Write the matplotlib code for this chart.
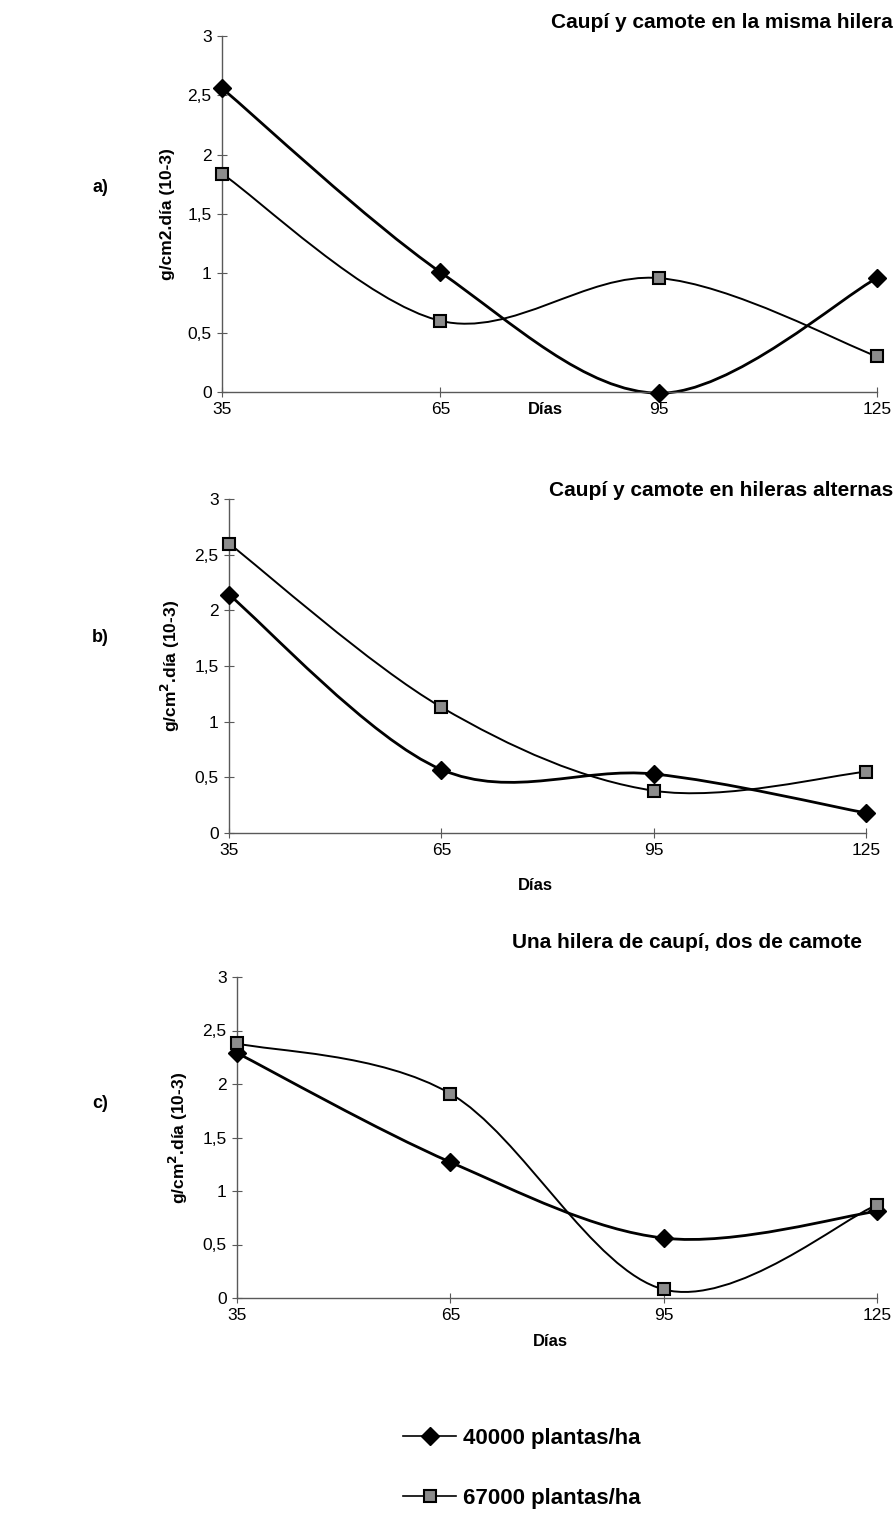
import matplotlib.pyplot as plt
from matplotlib.path import Path
from matplotlib.patches import PathPatch
from matplotlib.lines import Line2D

plt.rcParams['font.family'] = ['Liberation Sans', 'DejaVu Sans']

# days after planting
dias = [35, 65, 95, 125]

# a) caupi y camote en la misma hilera
a_40000 = [2.56, 1.01, -0.01, 0.96]
a_67000 = [1.84, 0.60, 0.96, 0.30]
# b) hileras alternas
b_40000 = [2.14, 0.57, 0.53, 0.18]
b_67000 = [2.60, 1.13, 0.38, 0.55]
# c) una hilera de caupi, dos de camote
c_40000 = [2.29, 1.27, 0.56, 0.81]
c_67000 = [2.38, 1.91, 0.08, 0.87]

yticks = [0, 0.5, 1, 1.5, 2, 2.5, 3]
ytick_labels = ['0', '0,5', '1', '1,5', '2', '2,5', '3']
series_labels = ['40000 plantas/ha', '67000 plantas/ha']

W, H = 896, 1520


def smooth_path(x, y):
    # excel style smoothed line, bezier segments between the points
    verts = [(x[0], y[0])]
    codes = [Path.MOVETO]
    n = len(x)
    for i in range(n - 1):
        xp, yp = (x[i - 1], y[i - 1]) if i > 0 else (x[i], y[i])
        xn, yn = (x[i + 2], y[i + 2]) if i + 2 < n else (x[i + 1], y[i + 1])
        c1 = (x[i] + (x[i + 1] - xp) / 6, y[i] + (y[i + 1] - yp) / 6)
        c2 = (x[i + 1] - (xn - x[i]) / 6, y[i + 1] - (yn - y[i]) / 6)
        verts += [c1, c2, (x[i + 1], y[i + 1])]
        codes += [Path.CURVE4] * 3
    return Path(verts, codes)


def panel(rect, s40, s67, ylabel):
    l, t, r, b = rect
    ax = fig.add_axes([l / W, 1 - b / H, (r - l) / W, (b - t) / H])
    ax.add_patch(PathPatch(smooth_path(dias, s40), fc='none', ec='black', lw=2.0, clip_on=False))
    ax.add_patch(PathPatch(smooth_path(dias, s67), fc='none', ec='black', lw=1.4, clip_on=False))
    ax.plot(dias, s40, ls='none', marker='D', ms=9, mfc='black', mec='black', clip_on=False, zorder=3)
    ax.plot(dias, s67, ls='none', marker='s', ms=8, mfc='0.55', mec='black', mew=1.5, clip_on=False, zorder=3)
    ax.set_xlim(35, 125)
    ax.set_ylim(0, 3)
    ax.set_xticks(dias)
    ax.set_yticks(yticks)
    ax.set_yticklabels(ytick_labels)
    for sp in ['top', 'right']:
        ax.spines[sp].set_visible(False)
    for sp in ['left', 'bottom']:
        ax.spines[sp].set_color('0.35')
        ax.spines[sp].set_linewidth(1.0)
    ax.tick_params(direction='inout', length=7, width=0.8, color='0.35', labelsize=12.5, pad=4)
    ax.set_ylabel(ylabel, fontsize=12.5, fontweight='bold', labelpad=9)
    return ax


fig = plt.figure(figsize=(W / 100, H / 100), dpi=100)

panel((222, 36, 877, 392), a_40000, a_67000, 'g/cm2.día (10-3)')
panel((229, 499, 866, 833), b_40000, b_67000, 'g/cm$^\\mathbf{2}$.día (10-3)')
panel((237, 977, 877, 1298), c_40000, c_67000, 'g/cm$^\\mathbf{2}$.día (10-3)')

title_kw = dict(fontsize=15, fontweight='bold', va='center')
fig.text(893 / W, 1 - 22 / H, 'Caupí y camote en la misma hilera', ha='right', **title_kw)
fig.text(893 / W, 1 - 490 / H, 'Caupí y camote en hileras alternas', ha='right', **title_kw)
fig.text(862 / W, 1 - 943 / H, 'Una hilera de caupí, dos de camote', ha='right', **title_kw)

dias_kw = dict(fontsize=12, fontweight='bold', ha='center', va='center')
fig.text(545 / W, 1 - 410 / H, 'Días', **dias_kw)
fig.text(535 / W, 1 - 885 / H, 'Días', **dias_kw)
fig.text(550 / W, 1 - 1342 / H, 'Días', **dias_kw)

lab_kw = dict(fontsize=13, fontweight='bold', ha='center', va='center')
fig.text(100 / W, 1 - 187 / H, 'a)', **lab_kw)
fig.text(100 / W, 1 - 637 / H, 'b)', **lab_kw)
fig.text(100 / W, 1 - 1103 / H, 'c)', **lab_kw)

handles = [
    Line2D([], [], color='black', lw=1.2, marker='D', ms=9, mfc='black', mec='black'),
    Line2D([], [], color='black', lw=1.2, marker='s', ms=8, mfc='0.55', mec='black', mew=1.5),
]
fig.legend(handles, series_labels, loc='upper left', bbox_to_anchor=(403 / W, 1 - 1428 / H),
           frameon=False, prop=dict(size=16, weight='bold'), handlelength=2.4,
           handletextpad=0.3, labelspacing=1.75, borderpad=0, borderaxespad=0)

fig.savefig('out.png', dpi=100)
